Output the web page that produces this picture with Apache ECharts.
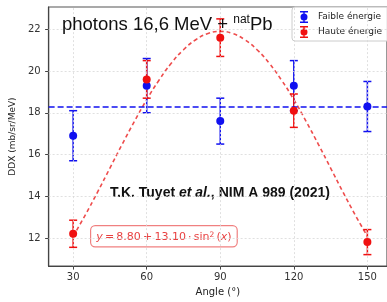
<!DOCTYPE html>
<html>
<head>
<meta charset="utf-8">
<script src="https://cdn.jsdelivr.net/npm/echarts@6/dist/echarts.min.js"></script>
<style>
  html, body { margin: 0; padding: 0; background: #fff; }
  #chart { width: 387px; height: 302px; }
</style>
</head>
<body>
<div id="chart"></div>
<script>
// data
const angles = [30, 60, 90, 120, 150];
const faible = [16.9, 19.3, 17.6, 19.3, 18.3];
const faibleErr = [1.2, 1.3, 1.1, 1.2, 1.2];
const haute = [12.2, 19.6, 21.6, 18.1, 11.8];
const hauteErr = [0.65, 0.9, 0.9, 0.8, 0.6];
const faibleMean = 18.28;
const fitX = [30, 35, 40, 45, 50, 55, 60, 65, 70, 75, 80, 85, 90, 95, 100, 105, 110, 115, 120, 125, 130, 135, 140, 145, 150];
const fitY = [12.08, 13.11, 14.21, 15.35, 16.49, 17.59, 18.63, 19.56, 20.37, 21.02, 21.50, 21.80, 21.90, 21.80, 21.50, 21.02, 20.37, 19.56, 18.63, 17.59, 16.49, 15.35, 14.21, 13.11, 12.08];
const xTicks = [30, 60, 90, 120, 150];
const yTicks = [12, 14, 16, 18, 20, 22];

const BLUE = "#1010f0";
const RED = "#f01010";
const FONT = "DejaVu Sans";

let errorBars = (color, cap) => (params, api) => {
    const x = api.value(0);
    const lo = api.coord([x, api.value(1)]);
    const hi = api.coord([x, api.value(2)]);
    const st = { stroke: color, lineWidth: 1.5 };
    return {
        type: "group",
        children: [
            { type: "line", shape: { x1: lo[0], y1: lo[1], x2: hi[0], y2: hi[1] }, style: st },
            { type: "line", shape: { x1: lo[0] - cap, y1: lo[1], x2: lo[0] + cap, y2: lo[1] }, style: st },
            { type: "line", shape: { x1: hi[0] - cap, y1: hi[1], x2: hi[0] + cap, y2: hi[1] }, style: st }
        ]
    };
};

let pairs = (xs, ys) => xs.map((x, i) => [x, ys[i]]);
let bars = (xs, ys, es) => xs.map((x, i) => [x, ys[i] - es[i], ys[i] + es[i]]);

const legendIcon = "path://M0,0h8v1.4h-8z M3.3,0h1.4v12h-1.4z M0,10.6h8v1.4h-8z M0.5,6a3.5,3.5 0 1,1 7,0a3.5,3.5 0 1,1 -7,0z";

const gridLines = {
    silent: true,
    symbol: "none",
    label: { show: false },
    lineStyle: { color: "#d8d8d8", type: [2, 2], width: 0.8 },
    data: xTicks.map(v => ({ xAxis: v })).concat(yTicks.map(v => ({ yAxis: v })))
};

const option = {
    animation: false,
    backgroundColor: "#fff",
    textStyle: { fontFamily: FONT },
    grid: { left: 44, top: 7, right: 0, bottom: 32, show: true, borderColor: "#555", borderWidth: 1.2, backgroundColor: "#fff" },
    title: {
        left: 62, top: 14, padding: 0,
        text: "{a|photons 16,6 MeV + }{s|nat}{a|Pb}",
        textStyle: {
            fontWeight: "normal",
            rich: {
                a: { fontFamily: "Liberation Sans", fontWeight: "normal", fontSize: 18.5, color: "#111", lineHeight: 22 },
                s: { fontFamily: "Liberation Sans", fontWeight: "normal", fontSize: 12, color: "#111", verticalAlign: "top", lineHeight: 12 }
            }
        }
    },
    legend: {
        orient: "vertical",
        left: 292, top: 7,
        padding: [4, 8, 3, 8],
        itemGap: 3,
        itemWidth: 8, itemHeight: 12,
        backgroundColor: "rgba(255,255,255,0.85)",
        borderColor: "#ccc", borderWidth: 1, borderRadius: 3,
        textStyle: { fontFamily: FONT, fontSize: 9, color: "#222", padding: [0, 0, 0, 5] },
        data: [
            { name: "Faible énergie", icon: legendIcon },
            { name: "Haute énergie", icon: legendIcon }
        ]
    },
    xAxis: {
        type: "value", min: 20, max: 158,
        name: "Angle (°)", nameLocation: "middle", nameGap: 17,
        nameTextStyle: { fontFamily: FONT, fontSize: 10, color: "#222" },
        axisLine: { show: true, lineStyle: { color: "#444", width: 1.2 } },
        axisTick: { show: true, length: 3.5, customValues: xTicks, lineStyle: { color: "#444" } },
        axisLabel: { customValues: xTicks, margin: 6, fontFamily: FONT, fontSize: 10, color: "#333" },
        splitLine: { show: false }
    },
    yAxis: {
        type: "value", min: 10.65, max: 23.07,
        name: "DDX (mb/sr/MeV)", nameLocation: "middle", nameGap: 23,
        nameTextStyle: { fontFamily: FONT, fontSize: 9, color: "#222" },
        axisLine: { show: true, lineStyle: { color: "#444", width: 1.2 } },
        axisTick: { show: true, length: 3.5, customValues: yTicks, lineStyle: { color: "#444" } },
        axisLabel: { customValues: yTicks, margin: 8, fontFamily: FONT, fontSize: 10, color: "#333" },
        splitLine: { show: false }
    },
    graphic: [
        {
            type: "text", left: 110, top: 186, z: 5,
            style: {
                text: "{b|T.K. Tuyet }{bi|et al.}{b|, NIM A 989 (2021)}",
                rich: {
                    b: { fontFamily: "Liberation Sans", fontWeight: "bold", fontSize: 14, fill: "#111" },
                    bi: { fontFamily: "Liberation Sans", fontWeight: "bold", fontStyle: "italic", fontSize: 14, fill: "#111" }
                }
            }
        },
        {
            type: "text", left: 90, top: 225, z: 5,
            style: {
                text: "{i|y}\u2009=\u20098.80\u2009+\u200913.10\u2009·\u2009sin{s|2}\u2009({i|x})",
                fontFamily: FONT, fontSize: 11, fill: "#e84040",
                backgroundColor: "#fff", borderColor: "#f08080", borderWidth: 1.2, borderRadius: 4,
                padding: [5, 5, 4, 5],
                rich: {
                    i: { fontFamily: FONT, fontStyle: "italic", fontSize: 11, fill: "#e84040" },
                    s: { fontFamily: FONT, fontSize: 7.5, fill: "#e84040", verticalAlign: "top", lineHeight: 8 }
                }
            }
        }
    ],
    series: [
        {
            name: "grid", type: "line", data: [], markLine: gridLines, z: 0
        },
        {
            name: "fit", type: "line", data: pairs(fitX, fitY), smooth: true,
            showSymbol: false, symbol: "none", z: 3,
            lineStyle: { color: "rgba(235,45,45,0.85)", width: 1.6, type: [4, 3] }
        },
        {
            name: "errF", type: "custom", data: bars(angles, faible, faibleErr),
            renderItem: errorBars(BLUE, 4), z: 4
        },
        {
            name: "errH", type: "custom", data: bars(angles, haute, hauteErr),
            renderItem: errorBars(RED, 4), z: 4
        },
        {
            name: "Faible énergie", type: "scatter", data: pairs(angles, faible),
            symbolSize: 8, itemStyle: { color: BLUE, opacity: 1 }, z: 6,
            markLine: {
                silent: true, symbol: "none", label: { show: false },
                lineStyle: { color: BLUE, width: 1.5, type: [6, 3] },
                data: [{ yAxis: faibleMean }]
            }
        },
        {
            name: "Haute énergie", type: "scatter", data: pairs(angles, haute),
            symbolSize: 8, itemStyle: { color: RED, opacity: 1 }, z: 6
        }
    ]
};

const chart = echarts.init(document.querySelector("#chart"), null, { renderer: "canvas" });
chart.setOption(option);
</script>
</body>
</html>
